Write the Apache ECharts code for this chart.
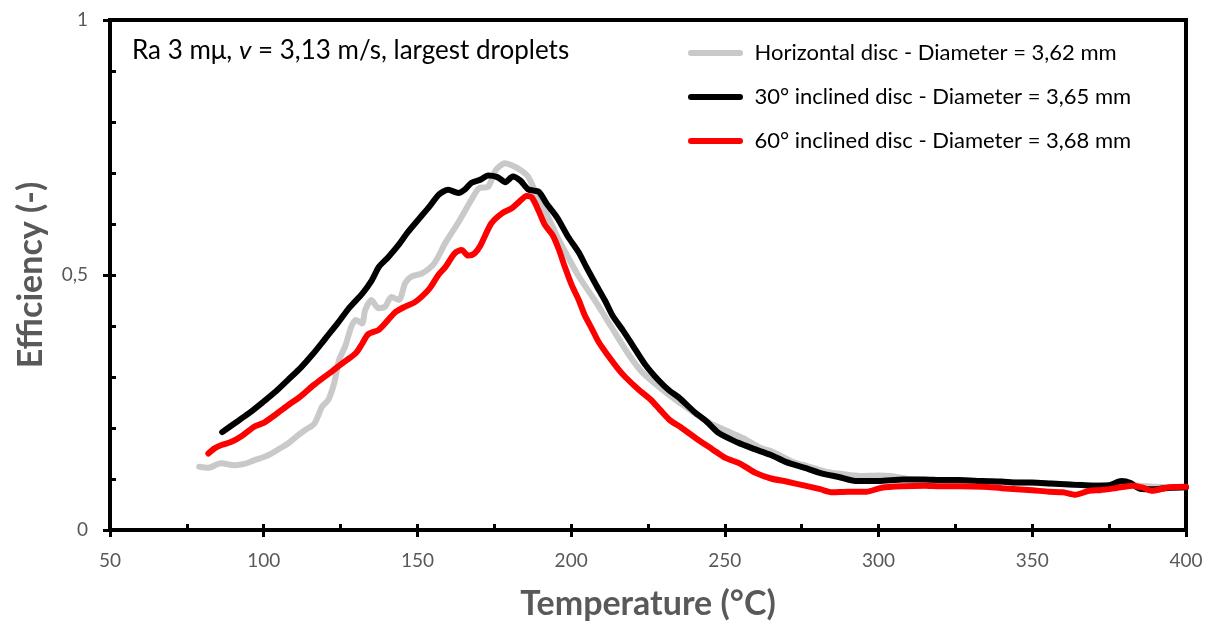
<!DOCTYPE html>
<html>
<head>
<meta charset="utf-8">
<script src="https://cdn.jsdelivr.net/npm/echarts@6/dist/echarts.min.js"></script>
<style>
  html, body { margin: 0; padding: 0; background: #fff; }
  #chart { width: 1213px; height: 626px; }
</style>
</head>
<body>
<div id="chart"></div>
<script>
// Horizontal disc - Diameter = 3,62 mm
const tempHorizontal = [79, 82, 86, 90.5, 94, 97, 100, 102.5, 105, 108, 111, 113.5, 116.5, 119, 121, 123, 124.5, 126.5, 128.5, 130, 132, 133, 135, 137.3, 139.5, 141.5, 144, 146, 148, 151.5, 155.5, 159, 163.5, 167.5, 170, 173, 175.5, 178.5, 181, 183.5, 186, 189, 192, 195.5, 199, 202.5, 207.5, 213, 218.5, 223, 228.5, 234, 239.5, 245, 250, 256, 261, 266, 272, 277, 283, 288, 294, 300, 304, 310, 320, 330, 340, 350, 360, 370, 380, 390, 400];
const effHorizontal = [0.124, 0.122, 0.131, 0.127, 0.13, 0.137, 0.143, 0.15, 0.159, 0.17, 0.185, 0.196, 0.209, 0.242, 0.255, 0.29, 0.333, 0.36, 0.399, 0.412, 0.405, 0.431, 0.451, 0.435, 0.438, 0.457, 0.451, 0.484, 0.497, 0.503, 0.523, 0.562, 0.605, 0.647, 0.67, 0.673, 0.706, 0.719, 0.714, 0.706, 0.693, 0.655, 0.62, 0.575, 0.535, 0.497, 0.452, 0.399, 0.346, 0.31, 0.281, 0.255, 0.232, 0.21, 0.196, 0.18, 0.163, 0.152, 0.134, 0.125, 0.114, 0.11, 0.106, 0.107, 0.106, 0.1, 0.097, 0.096, 0.094, 0.092, 0.09, 0.088, 0.088, 0.085, 0.084];

// 30° inclined disc - Diameter = 3,65 mm
const temp30 = [86.5, 90, 95, 100, 104, 108, 112, 116, 120, 124, 128, 132, 135, 137.5, 140.5, 144, 147, 150.5, 154, 157, 160, 163.3, 165.5, 167.6, 170.5, 173, 176, 178.6, 181, 183.5, 186, 189.5, 192, 195.5, 199, 202.4, 205, 208, 211, 213.5, 217, 220, 224, 228.5, 232, 235, 240, 244, 248, 254, 259, 265, 270, 276, 282, 287, 292.5, 300, 308, 315, 320, 326, 334, 340, 345, 350, 356, 362, 366, 370, 375, 379, 382, 385, 390, 395, 400];
const eff30 = [0.192, 0.207, 0.228, 0.252, 0.272, 0.295, 0.318, 0.345, 0.375, 0.405, 0.437, 0.463, 0.488, 0.516, 0.535, 0.56, 0.585, 0.61, 0.635, 0.658, 0.667, 0.661, 0.668, 0.681, 0.687, 0.695, 0.692, 0.682, 0.693, 0.685, 0.668, 0.663, 0.64, 0.612, 0.575, 0.545, 0.515, 0.482, 0.45, 0.42, 0.39, 0.362, 0.325, 0.293, 0.273, 0.26, 0.232, 0.213, 0.19, 0.172, 0.16, 0.147, 0.133, 0.122, 0.11, 0.104, 0.096, 0.096, 0.099, 0.099, 0.098, 0.098, 0.096, 0.095, 0.093, 0.093, 0.091, 0.089, 0.088, 0.087, 0.088, 0.096, 0.092, 0.081, 0.08, 0.083, 0.084];

// 60° inclined disc - Diameter = 3,68 mm
const temp60 = [82, 84, 86.5, 89.5, 93, 97, 100, 104, 108, 112, 116, 119, 122, 124.5, 127, 130, 132, 134, 137.3, 140.5, 143, 146, 149, 151.5, 154, 156.8, 159, 162.2, 164.4, 166.5, 168.5, 170.5, 174, 177.5, 180.7, 183, 185.5, 187.2, 189.5, 191.5, 194, 196, 198, 200.2, 202.4, 204.5, 206.7, 209, 212, 215, 217.6, 222, 226, 229, 232, 236, 241.5, 246, 250, 255, 260, 265, 270, 276, 281, 285, 290, 296, 301, 308, 315, 320, 326, 334, 340, 345, 350, 355.5, 360, 364, 368.5, 372, 377, 382.5, 386, 389, 394.5, 400];
const eff60 = [0.15, 0.16, 0.167, 0.173, 0.185, 0.203, 0.21, 0.227, 0.245, 0.262, 0.283, 0.297, 0.31, 0.322, 0.333, 0.347, 0.365, 0.384, 0.392, 0.412, 0.428, 0.438, 0.446, 0.458, 0.474, 0.5, 0.515, 0.543, 0.549, 0.538, 0.542, 0.558, 0.601, 0.621, 0.631, 0.643, 0.655, 0.652, 0.625, 0.598, 0.578, 0.55, 0.515, 0.48, 0.452, 0.42, 0.395, 0.368, 0.342, 0.318, 0.3, 0.275, 0.255, 0.235, 0.216, 0.2, 0.176, 0.158, 0.142, 0.13, 0.112, 0.101, 0.095, 0.087, 0.08, 0.074, 0.075, 0.075, 0.083, 0.086, 0.087, 0.086, 0.086, 0.085, 0.082, 0.08, 0.078, 0.075, 0.074, 0.069, 0.077, 0.078, 0.082, 0.087, 0.083, 0.077, 0.084, 0.085];

const seriesNames = [
  'Horizontal disc - Diameter = 3,62 mm',
  '30° inclined disc - Diameter = 3,65 mm',
  '60° inclined disc - Diameter = 3,68 mm'
];
const seriesColors = ['#c9c9c9', '#000000', '#ff0000'];

const pair = (xs, ys) => xs.map((x, i) => [x, ys[i]]);
const FONT = 'Lato';
const AXIS_GREY = '#595959';

const chart = echarts.init(document.getElementById('chart'), null, { renderer: 'canvas' });

const capsule = 'path://M3,0 H52 A3,3 0 0 1 52,6 H3 A3,3 0 0 1 3,0 Z';

chart.setOption({
  animation: false,
  backgroundColor: '#ffffff',
  textStyle: { fontFamily: FONT },
  grid: {
    left: 110, right: 27, top: 20, bottom: 96,
    show: true, borderColor: '#000', borderWidth: 4, backgroundColor: 'transparent'
  },
  title: {
    left: 127, top: 33,
    text: '{a|Ra 3 mμ, }{i|v}{a| = 3,13 m/s, largest droplets}',
    textStyle: {
      fontWeight: 'normal',
      rich: {
        a: { fontFamily: FONT, fontSize: 26, fontWeight: 'normal', color: '#000' },
        i: { fontFamily: FONT, fontSize: 26, fontWeight: 'normal', color: '#000', fontStyle: 'italic' }
      }
    }
  },
  legend: {
    orient: 'vertical',
    left: 683, top: 37,
    itemWidth: 56, itemHeight: 6, itemGap: 22,
    icon: capsule,
    textStyle: { fontFamily: FONT, fontSize: 22, color: '#000', padding: [0, 0, 0, 6] },
    data: seriesNames
  },
  xAxis: [{
    type: 'value', min: 50, max: 400, interval: 50,
    position: 'bottom',
    name: 'Temperature (°C)', nameLocation: 'middle', nameGap: 57,
    nameTextStyle: { fontFamily: FONT, fontSize: 34, fontWeight: 'bold', color: AXIS_GREY },
    axisLine: { show: true, onZero: false, lineStyle: { color: '#000', width: 4 } },
    axisTick: { show: true, inside: false, length: 7, lineStyle: { color: '#000', width: 3 } },
    axisLabel: { fontFamily: FONT, fontSize: 19, color: AXIS_GREY, margin: 21 },
    splitLine: { show: false }
  }, {
    // inner tick marks every 25 °C
    type: 'value', min: 50, max: 400, interval: 25,
    position: 'bottom',
    axisLine: { show: false },
    axisTick: { show: true, inside: true, length: 6, lineStyle: { color: '#000', width: 3 } },
    axisLabel: { show: false },
    splitLine: { show: false }
  }],
  yAxis: [{
    type: 'value', min: 0, max: 1, interval: 0.5,
    position: 'left',
    name: 'Efficiency (-)', nameLocation: 'middle', nameGap: 62,
    nameTextStyle: { fontFamily: FONT, fontSize: 34, fontWeight: 'bold', color: AXIS_GREY },
    axisLine: { show: true, onZero: false, lineStyle: { color: '#000', width: 4 } },
    axisTick: { show: true, inside: false, length: 7, lineStyle: { color: '#000', width: 3 } },
    axisLabel: {
      fontFamily: FONT, fontSize: 19, color: AXIS_GREY, margin: 22,
      formatter: v => String(v).replace('.', ',')
    },
    splitLine: { show: false }
  }, {
    // inner tick marks every 0,1
    type: 'value', min: 0, max: 1, interval: 0.1,
    position: 'left',
    axisLine: { show: false },
    axisTick: { show: true, inside: true, length: 6, lineStyle: { color: '#000', width: 3 } },
    axisLabel: { show: false },
    splitLine: { show: false }
  }],
  series: [
    { name: seriesNames[0], data: pair(tempHorizontal, effHorizontal), color: seriesColors[0] },
    { name: seriesNames[1], data: pair(temp30, eff30), color: seriesColors[1] },
    { name: seriesNames[2], data: pair(temp60, eff60), color: seriesColors[2] }
  ].map((s, i) => ({
    ...s,
    type: 'line',
    xAxisIndex: 0, yAxisIndex: 0,
    showSymbol: false,
    symbol: 'none',
    smooth: 0.25,
    z: 2 + i,
    lineStyle: { width: 6, color: s.color, cap: 'round', join: 'round' }
  }))
});
</script>
</body>
</html>
